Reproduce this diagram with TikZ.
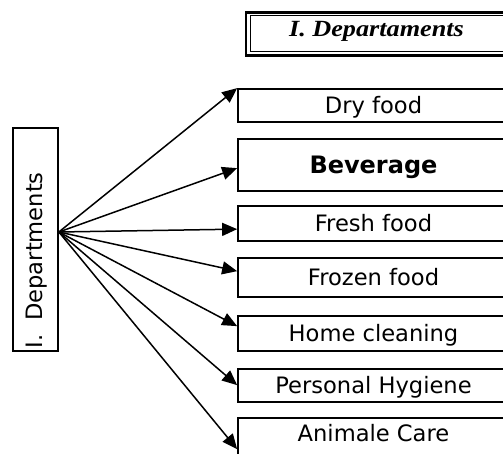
\documentclass[tikz,border=0pt]{standalone}
\usepackage{fontspec}
\usepackage{graphicx}
\setmainfont{DejaVu Sans}
\newfontfamily\titlefont{Liberation Serif}
\usetikzlibrary{arrows.meta,fit,calc}

\begin{document}
\begin{tikzpicture}[x=0.5pt,y=-0.5pt,
  box/.style={draw, line width=0.85pt, inner sep=0pt, minimum width=135.5pt},
  lbl/.style={font=\fontsize{11.3}{13}\selectfont, text height=8.2pt, text depth=0pt},
  boldlbl/.style={font=\fontsize{12}{14}\selectfont\bfseries, text height=8.8pt, text depth=0pt},
  arr/.style={line width=0.75pt, -{Triangle[length=7.5pt,width=6.5pt]}}
]
\useasboundingbox (0,0) rectangle (503,454);

% heading with a double frame (thick outside, thin inside)
\node[draw, line width=1.15pt, inner sep=0pt, fit={(246,12.5) (509,55.5)}] (titleout) {};
\node[draw, line width=0.5pt, inner sep=0pt, fit={(250,16) (505,52)}] (titlein) {};
\node[anchor=base, inner sep=0pt, font=\titlefont\bfseries\itshape\fontsize{11.6}{13}\selectfont]
  (title) at (376.5,36.7) {\scalebox{1.13}[1]{I. Departaments}};

% vertical source box
\node[draw, line width=0.85pt, inner sep=0pt, fit={(13,128) (58,351)}] (dep) {};
\node[rotate=90, anchor=base west, inner sep=0pt, font=\fontsize{11.3}{13}\selectfont]
  (deptext) at (42,349) {I.\hspace{7pt}Departments};
\coordinate (hub) at ($(dep.east)+(0,-7.5)$);

% department boxes
\node[box, lbl, minimum height=16.5pt] (dry) at (373.5,105.5) {Dry food};
\node[box, boldlbl, minimum height=26pt] (bev) at (373.5,165) {Beverage};
\node[box, lbl, minimum height=17.5pt] (fresh) at (373.5,223.5) {Fresh food};
\node[box, lbl, minimum height=19.5pt] (frozen) at (373.5,277.5) {Frozen food};
\node[box, lbl, minimum height=17.5pt] (home) at (373.5,333.5) {Home cleaning};
\node[box, lbl, minimum height=16.5pt] (hyg) at (373.5,385.5) {Personal Hygiene};
\node[box, minimum height=31pt] (care) at (373.5,449) {};
\node[lbl, inner sep=0pt] (caretext) at (373.5,433) {Animale Care};

% connectors
\draw[arr] (hub) -- (dry.north west);
\draw[arr] (hub) -- ($(bev.north west)+(0,30)$);
\draw[arr] (hub) -- ($(fresh.north west)+(0,24)$);
\draw[arr] (hub) -- ($(frozen.north west)+(0,14)$);
\draw[arr] (hub) -- ($(home.north west)+(0,11)$);
\draw[arr] (hub) -- ($(hyg.north west)+(0,17)$);
\draw[arr] (hub) -- ($(care.north west)+(0,32)$);
\end{tikzpicture}
\end{document}
